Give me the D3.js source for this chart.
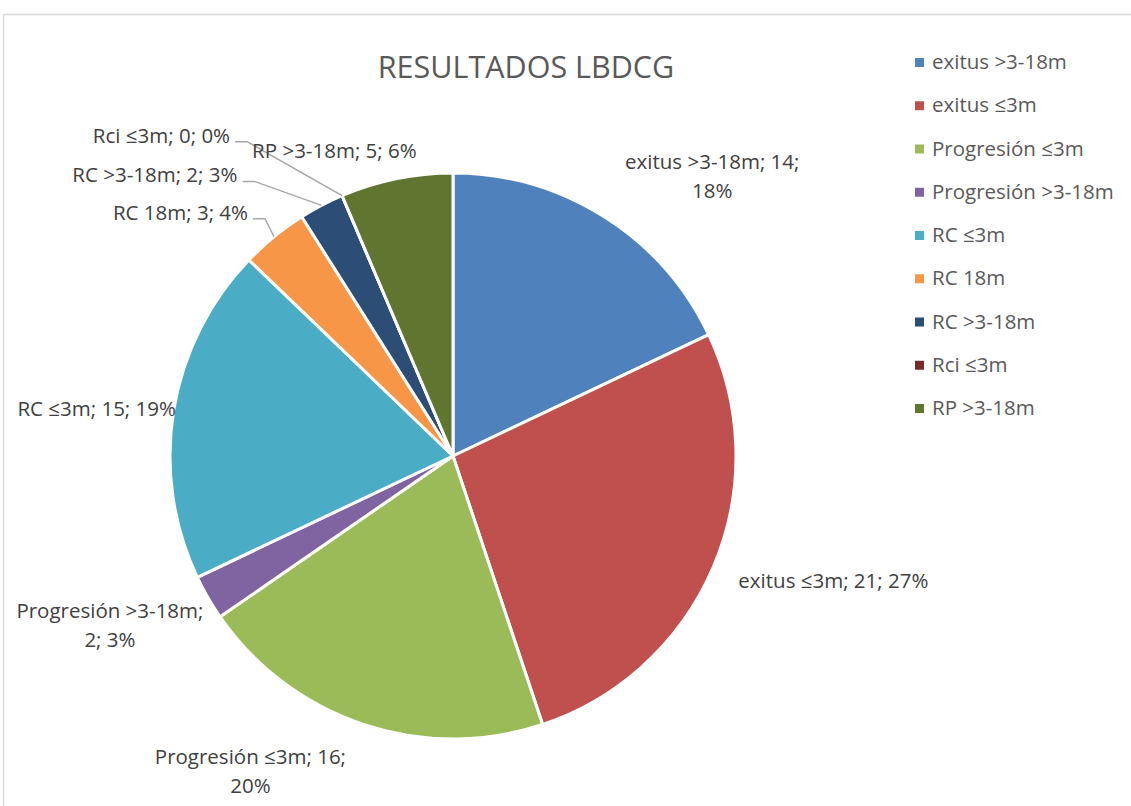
<!DOCTYPE html>
<html>
<head>
<meta charset="utf-8">
<script src="https://cdn.jsdelivr.net/npm/d3@7"></script>
<style>
  body { margin: 0; background: #fff; }
  text { font-family: "Open Sans", "Noto Sans", sans-serif; fill: #404040; }
</style>
</head>
<body>
<svg id="chart" width="1131" height="806"></svg>
<script>
// data
var categories = ["exitus >3-18m", "exitus \u22643m", "Progresi\u00f3n \u22643m", "Progresi\u00f3n >3-18m",
  "RC \u22643m", "RC 18m", "RC >3-18m", "Rci \u22643m", "RP >3-18m"];
var values = [14, 21, 16, 2, 15, 3, 2, 0, 5];
var percents = ["18%", "27%", "20%", "3%", "19%", "4%", "3%", "0%", "6%"];
var colors = ["#4F81BD", "#C0504D", "#9BBB59", "#8064A2", "#4BACC6", "#F79646", "#2C4D75", "#772C2A", "#5F7530"];

var svg = d3.select("#chart"),
  cx = 453, cy = 456, r = 283;

// chart area border
svg.append("rect")
  .attr("x", 3.5).attr("y", 14.5)
  .attr("width", 1140).attr("height", 800)
  .attr("fill", "none")
  .attr("stroke", "#d9d9d9")
  .attr("stroke-width", 1.5);

svg.append("text")
  .attr("x", 526).attr("y", 78)
  .attr("text-anchor", "middle")
  .style("font-size", "30.5px")
  .style("fill", "#595959")
  .text("RESULTADOS LBDCG");

var data = categories.map(function(c, i){ return {name: c, value: values[i], pct: percents[i], color: colors[i]}; });

var pie = d3.pie().sort(null).value(function(d){ return d.value; });
var arcs = pie(data);
var arc = d3.arc().innerRadius(0).outerRadius(r);

var g = svg.append("g").attr("transform", "translate(" + cx + "," + cy + ")");

g.selectAll("path")
  .data(arcs)
  .enter().append("path")
  .attr("d", arc)
  .attr("fill", function(d){ return d.data.color; })
  .attr("stroke", "#fff")
  .attr("stroke-width", 3)
  .attr("stroke-linejoin", "round");

// label layout: nudge from the edge point at the slice's mid angle
// lines: how the label text is wrapped; leader: draw an elbow line to the slice
var labelLayout = [
  {dx: 108, dy: -48, anchor: "middle", lines: function(d){ return [d.name + "; " + d.value + ";", d.pct]; }},
  {dx: 25, dy: 21, anchor: "start", lines: function(d){ return [d.name + "; " + d.value + "; " + d.pct]; }},
  {dx: -113, dy: 40, anchor: "middle", lines: function(d){ return [d.name + "; " + d.value + ";", d.pct]; }},
  {dx: -98, dy: 20, anchor: "middle", lines: function(d){ return [d.name + ";", d.value + "; " + d.pct]; }},
  {dx: -77, dy: 5, anchor: "middle", lines: function(d){ return [d.name + "; " + d.value + "; " + d.pct]; }},
  {dx: -26, dy: -17, anchor: "end", leader: true, lines: function(d){ return [d.name + "; " + d.value + "; " + d.pct]; }},
  {dx: -84, dy: -23, anchor: "end", leader: true, lines: function(d){ return [d.name + "; " + d.value + "; " + d.pct]; }},
  {dx: -112, dy: -53, anchor: "end", leader: true, lines: function(d){ return [d.name + "; " + d.value + "; " + d.pct]; }},
  {dx: -62, dy: -21, anchor: "middle", lines: function(d){ return [d.name + "; " + d.value + "; " + d.pct]; }}
];

function edge(d){
  var a = (d.startAngle + d.endAngle) / 2;
  return [r * Math.sin(a), -r * Math.cos(a)];
}

var lineH = 29;
arcs.forEach(function(d, i){
  var L = labelLayout[i], p = edge(d);
  var x = p[0] + L.dx, y = p[1] + L.dy;
  if (L.leader) {
    var sx = x + 5, sy = y - 1;
    g.append("polyline")
      .attr("points", [[sx, sy], [sx + 12, sy], p].map(function(q){ return q.join(","); }).join(" "))
      .attr("fill", "none")
      .attr("stroke", "#a6a6a6")
      .attr("stroke-width", 1.5);
  }
  var t = g.append("text")
    .attr("text-anchor", L.anchor)
    .style("font-size", "20.5px");
  L.lines(d.data).forEach(function(s, k){
    t.append("tspan").attr("x", x).attr("y", y + k * lineH).text(s);
  });
});

// legend
var legend = svg.append("g").attr("transform", "translate(915,69)");
var row = legend.selectAll("g")
  .data(data)
  .enter().append("g")
  .attr("transform", function(d, i){ return "translate(0," + (i * 43.25) + ")"; });
row.append("rect")
  .attr("x", 0).attr("y", -11)
  .attr("width", 9).attr("height", 9)
  .attr("fill", function(d){ return d.color; });
row.append("text")
  .attr("x", 17).attr("y", 0)
  .style("font-size", "20.5px")
  .style("fill", "#595959")
  .text(function(d){ return d.name; });
</script>
</body>
</html>
